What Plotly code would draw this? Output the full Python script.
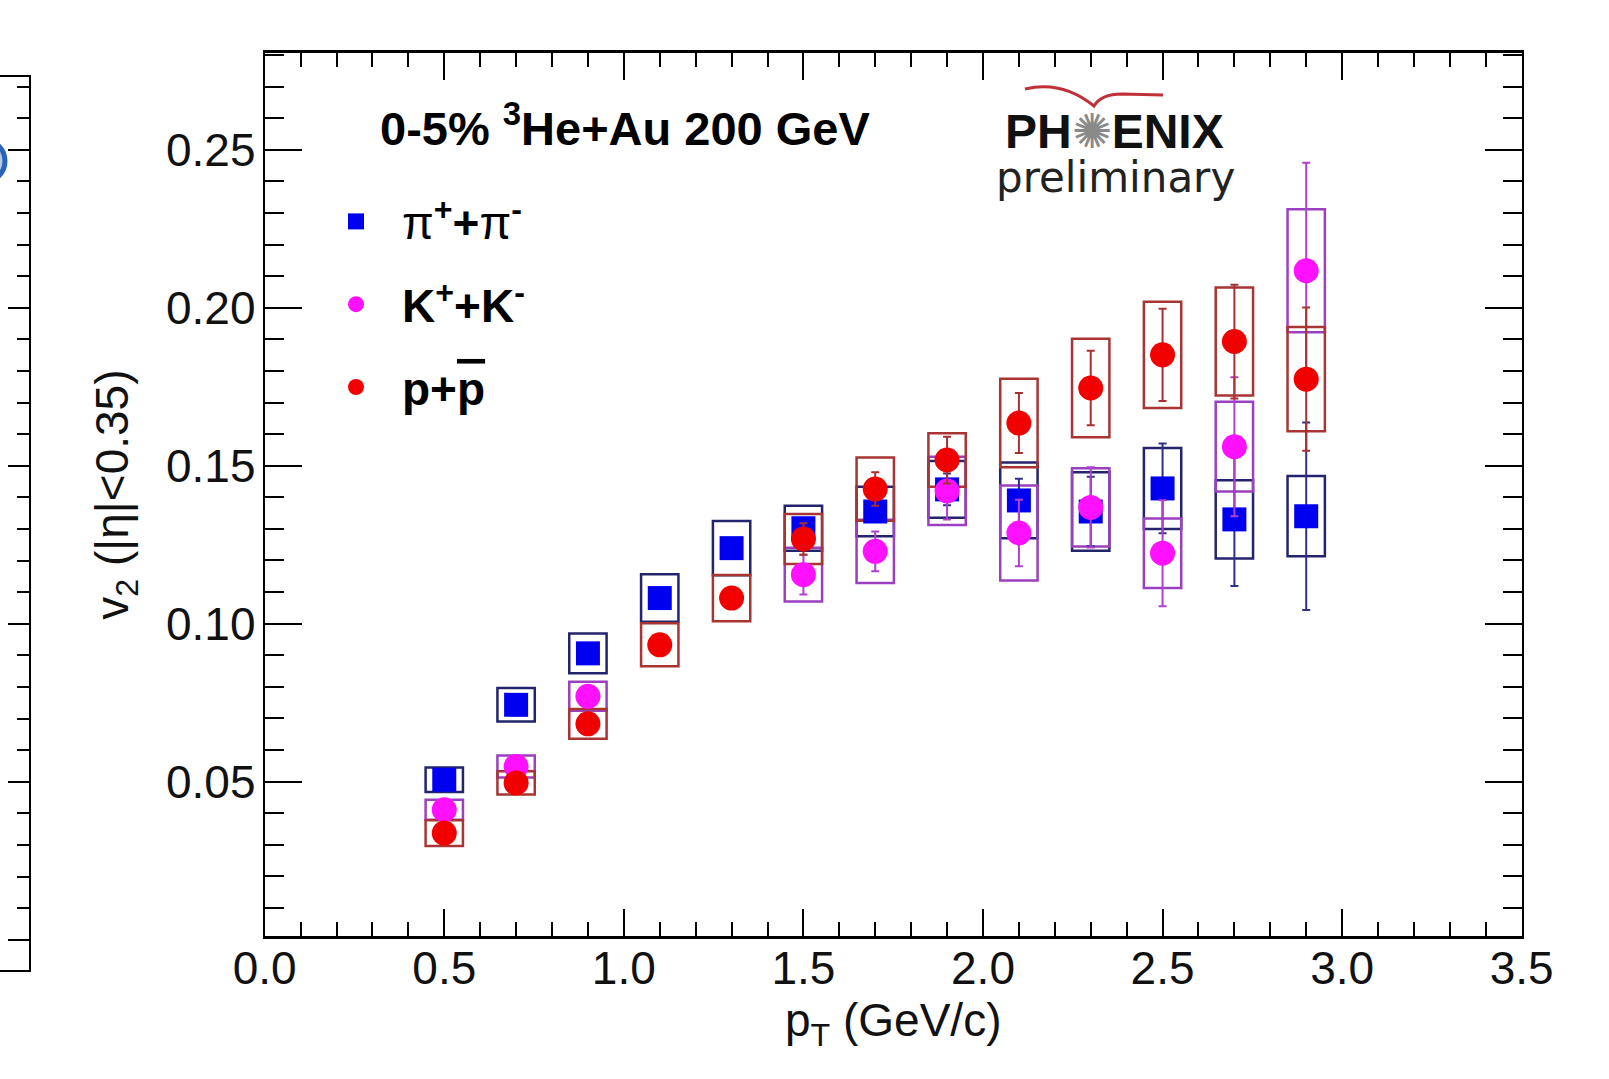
import plotly.graph_objects as go

# ---------------- data ----------------
pt = [0.5, 0.7, 0.9, 1.1, 1.3, 1.5, 1.7, 1.9, 2.1, 2.3, 2.5, 2.7, 2.9]

pion_v2 = [0.0506, 0.0743, 0.0906, 0.1081, 0.1239, 0.1302, 0.1355, 0.1425, 0.1390, 0.1355, 0.1428, 0.1330, 0.1340]
pion_stat = [0.0010, 0.0012, 0.0015, 0.0018, 0.0020, 0.0025, 0.0030, 0.0050, 0.0069, 0.0110, 0.0142, 0.0211, 0.0297]
pion_sys = [0.0039, 0.0053, 0.0063, 0.0075, 0.0086, 0.0071, 0.0078, 0.0090, 0.0120, 0.0124, 0.0128, 0.0124, 0.0127]

kaon_v2 = [0.0411, 0.0548, 0.0770, None, None, 0.1155, 0.1229, 0.1420, 0.1287, 0.1368, 0.1223, 0.1560, 0.2117]
kaon_stat = [0.0012, 0.0015, 0.0020, None, None, 0.0063, 0.0063, 0.0090, 0.0105, 0.0127, 0.0168, 0.0220, 0.0342]
kaon_sys = [0.0032, 0.0035, 0.0046, None, None, 0.0085, 0.0100, 0.0108, 0.0150, 0.0124, 0.0110, 0.0142, 0.0195]

proton_v2 = [0.0337, 0.0496, 0.0683, 0.0933, 0.1081, 0.1268, 0.1426, 0.1518, 0.1635, 0.1746, 0.1851, 0.1893, 0.1774]
proton_stat = [0.0012, 0.0014, 0.0018, 0.0020, 0.0025, 0.0050, 0.0053, 0.0074, 0.0095, 0.0118, 0.0146, 0.0180, 0.0227]
proton_sys = [0.0041, 0.0037, 0.0047, 0.0068, 0.0073, 0.0079, 0.0100, 0.0085, 0.0140, 0.0156, 0.0168, 0.0171, 0.0165]

series_names = ["π<b><sup>+</sup>+</b>π<b><sup>-</sup></b>",
                "<b>K<sup>+</sup>+K<sup>-</sup></b>",
                "<b>p+<span style='text-decoration:overline'>p</span></b>"]

x_tick_vals = [0.0, 0.5, 1.0, 1.5, 2.0, 2.5, 3.0, 3.5]
x_tick_text = ["0.0", "0.5", "1.0", "1.5", "2.0", "2.5", "3.0", "3.5"]
y_tick_vals = [0.05, 0.10, 0.15, 0.20, 0.25]
y_tick_text = ["0.05", "0.10", "0.15", "0.20", "0.25"]

header_text = "<b>0-5% <sup>3</sup>He+Au 200 GeV</b>"
x_title = "p<sub>T</sub> (GeV/c)"
y_title = "v<sub>2</sub> (|η|&lt;0.35)"

# ---------------- styling ----------------
W, H = 1609, 1079
FONT = "Liberation Sans, Arial, Helvetica, sans-serif"
BOX_HALF = 0.052

styles = [
    dict(key="pion", v2=pion_v2, stat=pion_stat, sys=pion_sys, symbol="square", size=24,
         color="#0000f0", err="#303088", box="#24246e"),
    dict(key="kaon", v2=kaon_v2, stat=kaon_stat, sys=kaon_sys, symbol="circle", size=25,
         color="#ff10ff", err="#b040d0", box="#9a40c0"),
    dict(key="proton", v2=proton_v2, stat=proton_stat, sys=proton_sys, symbol="circle", size=25,
         color="#f20000", err="#a83030", box="#a83434"),
]

fig = go.Figure()
shapes = []
for name, s in zip(series_names, styles):
    fig.add_trace(go.Scatter(
        x=pt, y=s["v2"], mode="markers", name=name, legendgroup=s["key"],
        marker=dict(symbol=s["symbol"], size=s["size"], color=s["color"], line=dict(width=0)),
        error_y=dict(type="data", array=s["stat"], color=s["err"], thickness=2, width=4, visible=True),
    ))
    for xv, yv, sv in zip(pt, s["v2"], s["sys"]):
        if yv is None:
            continue
        shapes.append(dict(type="rect", xref="x", yref="y",
                           x0=xv - BOX_HALF, x1=xv + BOX_HALF, y0=yv - sv, y1=yv + sv,
                           line=dict(color=s["box"], width=2.5),
                           fillcolor="rgba(0,0,0,0)", layer="below"))

# empty trace for the cropped neighbour panel frame on the far left
fig.add_trace(go.Scatter(x=[], y=[], xaxis="x2", yaxis="y2", showlegend=False, hoverinfo="skip"))

# PHENIX logo swoosh (decoration, paper coords)
def px(x):
    return x / W

def py(y):
    return 1 - y / H

swoosh = "M {:.5f},{:.5f} Q {:.5f},{:.5f} {:.5f},{:.5f} Q {:.5f},{:.5f} {:.5f},{:.5f} L {:.5f},{:.5f}".format(
    px(1025), py(89), px(1062), py(80), px(1094), py(106),
    px(1101), py(94), px(1122), py(94), px(1163), py(95))
shapes.append(dict(type="path", xref="paper", yref="paper", path=swoosh,
                   line=dict(color="#c03038", width=3), layer="above"))
# partial blue mark of neighbouring panel at the left edge
shapes.append(dict(type="circle", xref="paper", yref="paper",
                   x0=px(-36), x1=px(5), y0=py(182), y1=py(140),
                   line=dict(color="#2a64b8", width=5), fillcolor="rgba(42,100,184,0.35)",
                   layer="above"))

axis_common = dict(showgrid=False, zeroline=False, showline=True, linecolor="black",
                   mirror="allticks", ticks="inside", tickcolor="black", tickwidth=2,
                   automargin=False)

fig.update_layout(
    width=W, height=H,
    margin=dict(l=0, r=0, t=0, b=0),
    paper_bgcolor="white", plot_bgcolor="white",
    font=dict(family=FONT, color="black"),
    shapes=shapes,
    xaxis=dict(domain=[264.7 / W, 1521.7 / W], range=[0, 3.5], anchor="y",
               tickmode="array", tickvals=x_tick_vals, ticktext=x_tick_text,
               ticklen=27, linewidth=3,
               minor=dict(tickmode="linear", tick0=0, dtick=0.1, ticks="inside", ticklen=14,
                          tickwidth=2, tickcolor="black", showgrid=False),
               tickfont=dict(size=46, family=FONT, color="#111"),
               ticklabelstandoff=-10,
               title=dict(text=x_title, font=dict(size=46, family=FONT, color="#111"), standoff=8),
               **axis_common),
    yaxis=dict(domain=[1 - 935.8 / H, 1 - 53.4 / H], range=[0.0012, 0.2805], anchor="x",
               tickmode="array", tickvals=y_tick_vals, ticktext=y_tick_text,
               ticklen=37, linewidth=2,
               minor=dict(tickmode="linear", tick0=0, dtick=0.01, ticks="inside", ticklen=19,
                          tickwidth=2, tickcolor="black", showgrid=False),
               tickfont=dict(size=46, family=FONT, color="#111"),
               ticklabelstandoff=-2,
               title=dict(text=y_title, font=dict(size=46, family=FONT, color="#111"), standoff=23),
               **axis_common),
    xaxis2=dict(domain=[0, 29 / W], range=[0, 1], anchor="y2", showgrid=False, zeroline=False,
                showline=True, linecolor="black", linewidth=2, mirror=True,
                showticklabels=False, ticks="", automargin=False),
    yaxis2=dict(domain=[1 - 970 / H, 1 - 77 / H], range=[-0.00953, 0.27304], anchor="x2",
                side="right", showgrid=False, zeroline=False, showline=True, linecolor="black",
                linewidth=2, tickmode="linear", tick0=0, dtick=0.05, ticks="inside", ticklen=21,
                tickwidth=2, tickcolor="black", showticklabels=False, automargin=False,
                minor=dict(tickmode="linear", tick0=0, dtick=0.01, ticks="inside", ticklen=12,
                           tickwidth=2, tickcolor="black", showgrid=False)),
    legend=dict(x=310 / W, y=1 - 185 / H, xanchor="left", yanchor="top",
                bgcolor="rgba(0,0,0,0)", borderwidth=0, itemwidth=82,
                traceorder="grouped", tracegroupgap=20,
                font=dict(size=46, family=FONT, color="black")),
    showlegend=True,
    annotations=[
        dict(text=header_text, xref="paper", yref="paper", x=377.6 / W, y=1 - 125 / H,
             xanchor="left", yanchor="middle", showarrow=False,
             font=dict(size=47, family=FONT, color="black")),
        dict(text="<b>PH</b><span style='color:#8a8a8a'>✺</span><b>ENIX</b>", xref="paper", yref="paper",
             x=1114.8 / W, y=1 - 131 / H, xanchor="center", yanchor="middle", showarrow=False,
             font=dict(size=48, family=FONT, color="#111")),
        dict(text="preliminary", xref="paper", yref="paper",
             x=1115.5 / W, y=1 - 177.5 / H, xanchor="center", yanchor="middle", showarrow=False,
             font=dict(size=42, family="DejaVu Sans, sans-serif", color="#222")),
    ],
)

fig.write_html("out.html", config={"displayModeBar": False},
               post_script="document.body.style.margin='0';document.body.style.overflow='hidden';")
